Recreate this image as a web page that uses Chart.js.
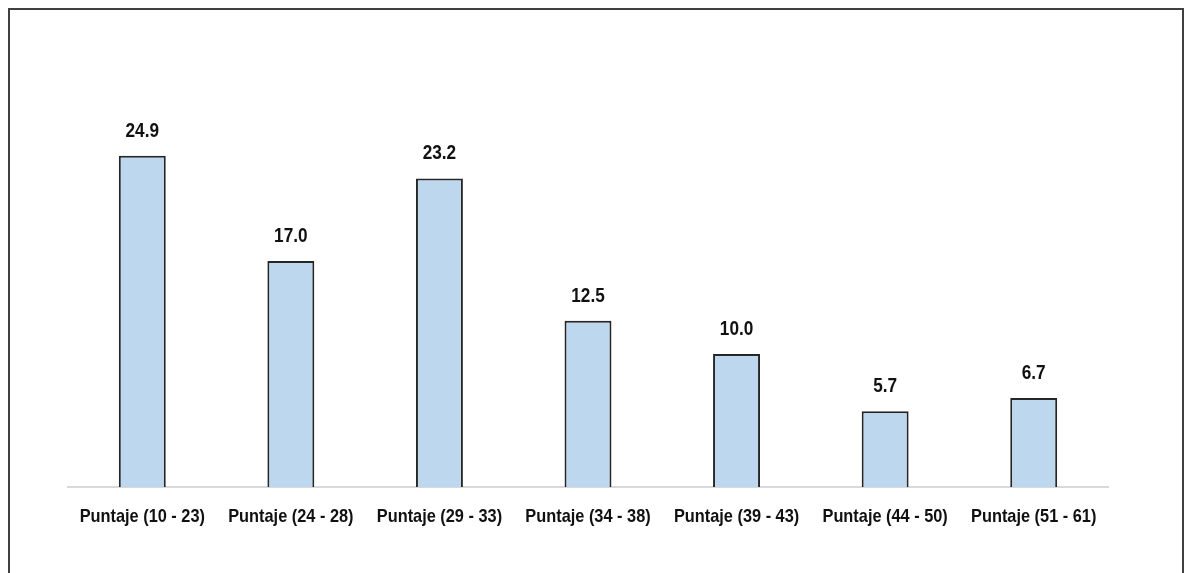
<!DOCTYPE html>
<html>
<head>
<meta charset="utf-8">
<script src="https://cdn.jsdelivr.net/npm/chart.js@4"></script>
<style>
  html, body { margin: 0; padding: 0; background: #fff; overflow: hidden; }
  #c { position: absolute; left: 0; top: 0; }
  #frame { position: absolute; left: 8px; top: 8px; width: 1172px; height: 640px;
           border: 2px solid #404040; pointer-events: none; }
</style>
</head>
<body>
<canvas id="c" width="1184" height="573"></canvas>
<div id="frame"></div>
<script>
const categories = ["Puntaje (10 - 23)", "Puntaje (24 - 28)", "Puntaje (29 - 33)", "Puntaje (34 - 38)", "Puntaje (39 - 43)", "Puntaje (44 - 50)", "Puntaje (51 - 61)"];
const values = [24.9, 17.0, 23.2, 12.5, 10.0, 5.7, 6.7];

const FONT = "'Liberation Sans', Arial, sans-serif";
const NARROW = 0.86;

function narrowText(ctx, text, x, y) {
  ctx.save();
  ctx.translate(x, y);
  ctx.scale(NARROW, 1);
  ctx.fillText(text, 0, 0);
  ctx.restore();
}

const narrowLabels = {
  id: 'narrowLabels',
  afterDatasetsDraw(chart) {
    const ctx = chart.ctx;
    const meta = chart.getDatasetMeta(0);
    const xs = chart.scales.x;
    ctx.save();
    ctx.fillStyle = "#111";
    ctx.textAlign = "center";
    ctx.textBaseline = "alphabetic";
    ctx.font = "bold 20px " + FONT;
    meta.data.forEach((bar, i) => {
      narrowText(ctx, values[i].toFixed(1), bar.x, bar.y - 19);
    });
    ctx.font = "bold 19px " + FONT;
    categories.forEach((lab, i) => {
      narrowText(ctx, lab, xs.getPixelForTick(i), xs.top + 35);
    });
    ctx.restore();
  }
};

new Chart(document.getElementById('c'), {
  type: 'bar',
  data: {
    labels: categories,
    datasets: [{
      data: values,
      backgroundColor: '#bdd7ee',
      borderColor: '#262626',
      borderWidth: 2,
      borderSkipped: 'bottom',
      categoryPercentage: 1.0,
      barPercentage: 0.316
    }]
  },
  options: {
    responsive: false,
    animation: false,
    layout: { padding: { left: 68, right: 76, top: 88, bottom: 0 } },
    plugins: { legend: { display: false }, tooltip: { enabled: false } },
    scales: {
      y: { display: false, min: 0, max: 30 },
      x: {
        afterFit(scale) { scale.height = 86; },
        grid: { display: false, drawTicks: false },
        border: { display: true, color: '#d9d9d9', width: 2 },
        ticks: { display: false }
      }
    }
  },
  plugins: [narrowLabels]
});
</script>
</body>
</html>
